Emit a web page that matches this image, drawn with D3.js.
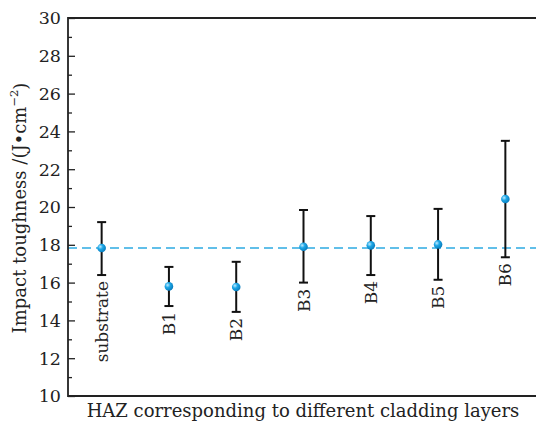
<!DOCTYPE html>
<html>
<head>
<meta charset="utf-8">
<script src="https://cdn.jsdelivr.net/npm/d3@7"></script>
<style>
  body { margin: 0; background: #fff; }
</style>
</head>
<body>
<div id="chart"></div>
<script>
// data
const categories = ["substrate", "B1", "B2", "B3", "B4", "B5", "B6"];
const means = [17.83, 15.80, 15.77, 17.90, 17.97, 18.02, 20.42];
const upper = [19.20, 16.83, 17.10, 19.84, 19.52, 19.90, 23.50];
const lower = [16.40, 14.76, 14.45, 16.00, 16.40, 16.15, 17.34];
const refLine = 17.83;
const yTicks = [10, 12, 14, 16, 18, 20, 22, 24, 26, 28, 30];
const yMinor = [11, 13, 15, 17, 19, 21, 23, 25, 27, 29];

const width = 536, height = 423;
const margin = { top: 18, right: -3, bottom: 27, left: 68 };
const FONT = "DejaVu Serif";

const svg = d3.select("#chart").append("svg")
  .attr("width", width)
  .attr("height", height)
  .attr("font-family", FONT)
  .style("display", "block");

const defs = svg.append("defs");
const grad = defs.append("radialGradient")
  .attr("id", "ball")
  .attr("cx", "35%").attr("cy", "35%").attr("r", "65%");
grad.append("stop").attr("offset", "0%").attr("stop-color", "#bfeaff");
grad.append("stop").attr("offset", "45%").attr("stop-color", "#1ea7e6");
grad.append("stop").attr("offset", "100%").attr("stop-color", "#0a7fc0");

const x = d3.scaleBand()
  .domain(categories)
  .range([margin.left, width - margin.right]);

const y = d3.scaleLinear()
  .domain([10, 30])
  .range([height - margin.bottom, margin.top]);

const cx = d => x(d) + x.bandwidth() / 2;

// reference dashed line
svg.append("line")
  .attr("x1", margin.left).attr("x2", width)
  .attr("y1", y(refLine)).attr("y2", y(refLine))
  .attr("stroke", "#2eabe2")
  .attr("stroke-width", 1.4)
  .attr("stroke-dasharray", "9,5");

// axes
const yAxis = svg.append("g")
  .attr("transform", `translate(${margin.left},0)`)
  .call(d3.axisRight(y).tickValues(yTicks).tickSize(7).tickFormat(""));
yAxis.select(".domain").remove();
yAxis.selectAll("line").attr("stroke", "#222").attr("stroke-width", 1.3);

const yMin = svg.append("g")
  .attr("transform", `translate(${margin.left},0)`)
  .call(d3.axisRight(y).tickValues(yMinor).tickSize(4).tickFormat(""));
yMin.select(".domain").remove();
yMin.selectAll("line").attr("stroke", "#222").attr("stroke-width", 1.3);

svg.selectAll(".ytl")
  .data(yTicks)
  .enter().append("text")
  .attr("class", "ytl")
  .attr("x", margin.left - 7)
  .attr("y", d => y(d))
  .attr("dy", "0.36em")
  .attr("text-anchor", "end")
  .attr("font-size", 17.5)
  .attr("fill", "#222")
  .text(d => d);

// frame: left, top, bottom
const x0 = margin.left, yTop = y(30), yBot = y(10);
svg.append("path")
  .attr("d", `M${width},${yTop}H${x0}V${yBot}H${width}`)
  .attr("fill", "none")
  .attr("stroke", "#222")
  .attr("stroke-width", 1.8);

// error bars
const eb = svg.selectAll(".eb")
  .data(categories)
  .enter().append("g")
  .attr("class", "eb");

eb.append("line")
  .attr("x1", d => cx(d)).attr("x2", d => cx(d))
  .attr("y1", (d, i) => y(upper[i]))
  .attr("y2", (d, i) => y(lower[i]))
  .attr("stroke", "#111").attr("stroke-width", 2);

eb.append("line")
  .attr("x1", d => cx(d) - 4.5).attr("x2", d => cx(d) + 4.5)
  .attr("y1", (d, i) => y(upper[i])).attr("y2", (d, i) => y(upper[i]))
  .attr("stroke", "#111").attr("stroke-width", 2);

eb.append("line")
  .attr("x1", d => cx(d) - 4.5).attr("x2", d => cx(d) + 4.5)
  .attr("y1", (d, i) => y(lower[i])).attr("y2", (d, i) => y(lower[i]))
  .attr("stroke", "#111").attr("stroke-width", 2);

eb.append("circle")
  .attr("cx", d => cx(d))
  .attr("cy", (d, i) => y(means[i]))
  .attr("r", 4.3)
  .attr("fill", "url(#ball)");

// category labels, rotated under each bar
eb.append("text")
  .attr("transform", (d, i) => `translate(${cx(d)},${y(lower[i]) + 6}) rotate(-90)`)
  .attr("dy", "0.36em")
  .attr("text-anchor", "end")
  .attr("font-size", 17)
  .attr("fill", "#222")
  .text(d => d);

// titles
const yt = svg.append("text")
  .attr("transform", `translate(20,${(margin.top + height - margin.bottom) / 2 + 1}) rotate(-90)`)
  .attr("dy", "0.36em")
  .attr("text-anchor", "middle")
  .attr("font-size", 18)
  .attr("fill", "#222");
yt.append("tspan").text("Impact toughness /(J\u2022cm");
yt.append("tspan").attr("font-size", 11.5).attr("dy", "-0.7em").text("\u22122");
yt.append("tspan").attr("dy", "0.45em").text(")");

svg.append("text")
  .attr("x", 303)
  .attr("y", 417)
  .attr("text-anchor", "middle")
  .attr("font-size", 18)
  .attr("fill", "#222")
  .text("HAZ corresponding to different cladding layers");
</script>
</body>
</html>
